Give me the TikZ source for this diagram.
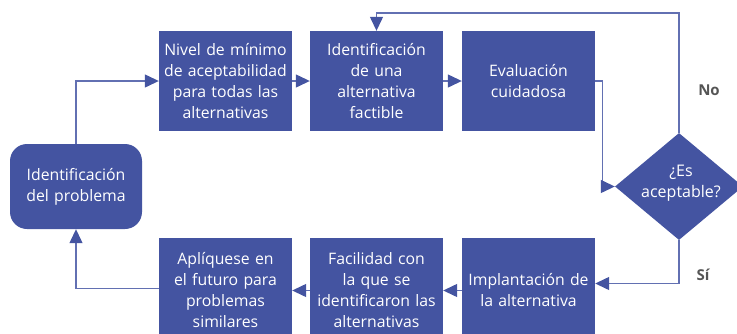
\documentclass[tikz,border=0pt]{standalone}
\usepackage{fontspec}
\setmainfont{Open Sans}
\usetikzlibrary{arrows.meta,shapes.geometric}
\definecolor{boxblue}{HTML}{4454A1}
\definecolor{lineblue}{HTML}{6270B2}
\definecolor{labelgray}{HTML}{555555}
\begin{document}
\begin{tikzpicture}[x=1pt,y=-1pt,
  box/.style={fill=boxblue, text=white, minimum width=133pt, text width=133pt,
    align=center, inner sep=0pt, font=\fontsize{15.8}{21}\selectfont},
  topbox/.style={box, minimum height=100pt},
  botbox/.style={box, minimum height=105pt},
  conn/.style={draw=lineblue, line width=1.3pt,
    -{Triangle[length=14pt,width=13pt,color=boxblue]}},
  lbl/.style={text=labelgray, font=\fontsize{15}{17}\selectfont\bfseries}]
\clip (0,0) rectangle (737,333);
% top row
\node[topbox] (nivel) at (225.5,81) {Nivel de mínimo\\de aceptabilidad\\para todas las\\alternativas};
\node[topbox] (ident) at (376.5,81) {Identificación\\de una\\alternativa\\factible};
\node[topbox] (eval) at (528.5,81) {Evaluación\\cuidadosa\\[14pt]};
% bottom row
\node[botbox] (apl) at (225.5,290.5) {Aplíquese en\\el futuro para\\problemas\\similares};
\node[botbox] (facil) at (376.5,290.5) {Facilidad con\\la que se\\identificaron las\\alternativas};
\node[botbox] (impl) at (528.5,290.5) {Implantación de\\la alternativa};
% problem box
\node[box, rounded corners=17pt, minimum width=132pt, text width=130pt, minimum height=85pt] (prob) at (76,186.5) {Identificación\\del problema};
% decision
\node[diamond, fill=boxblue, minimum width=128pt, minimum height=107pt, inner sep=0pt] (dia) at (679,186.5) {};
\node[text=white, align=center, font=\fontsize{16}{21}\selectfont] (diatext) at (681,183) {¿Es\\aceptable?};
\coordinate (topline) at (0,13);
% connectors
\draw[conn] (prob.north) |- (nivel.west);
\draw[conn] (nivel.east) -- (ident.west);
\draw[conn] (ident.east) -- (eval.west);
\draw[conn] (eval.east) -- ++(7,0) |- (dia.west);
\draw[conn] (dia.north) -- (dia.north |- topline) -| (ident.north);
\draw[conn] (dia.south) |- ([yshift=7pt]impl.east);
\draw[conn] (impl.west) -- (facil.east);
\draw[conn] (facil.west) -- (apl.east);
\draw[conn] ([yshift=2pt]apl.west) -| (prob.south);
% labels
\node[lbl] (no) at (709,90) {No};
\node[lbl] (si) at (703,275) {Sí};
\end{tikzpicture}
\end{document}
